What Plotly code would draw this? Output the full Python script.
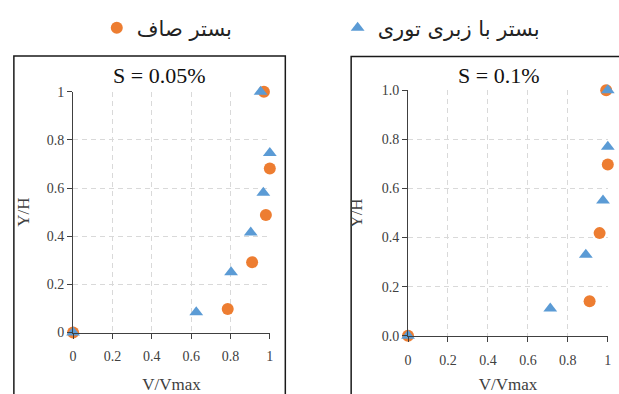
import plotly.graph_objects as go

# Velocity profiles: V/Vmax against Y/H for two slopes
smooth_label = "بستر صاف"
mesh_label = "بستر با زبری توری"

s005_smooth_v = [0.0, 0.786, 0.91, 0.98, 1.0, 0.97]
s005_smooth_y = [0.0, 0.098, 0.292, 0.488, 0.681, 1.0]
s005_mesh_v = [0.0, 0.626, 0.803, 0.903, 0.967, 1.0, 0.953]
s005_mesh_y = [0.0, 0.084, 0.25, 0.415, 0.58, 0.745, 1.0]

s01_smooth_v = [0.0, 0.909, 0.959, 1.0, 0.992]
s01_smooth_y = [0.0, 0.141, 0.418, 0.697, 1.0]
s01_mesh_v = [0.0, 0.712, 0.89, 0.976, 1.0, 1.0]
s01_mesh_y = [0.0, 0.111, 0.33, 0.551, 0.77, 1.0]

x_ticks = [0, 0.2, 0.4, 0.6, 0.8, 1.0]
x_ticktext = ["0", "0.2", "0.4", "0.6", "0.8", "1"]
y_ticks = [0, 0.2, 0.4, 0.6, 0.8, 1.0]
y_ticktext_left = ["0", "0.2", "0.4", "0.6", "0.8", "1"]
y_ticktext_right = ["0.0", "0.2", "0.4", "0.6", "0.8", "1.0"]
panel_titles = ["S = 0.05%", "S = 0.1%"]

ORANGE = "#ED7D31"
BLUE = "#5B9BD5"
SERIF = "Liberation Serif"
W, H = 619, 394

fig = go.Figure()


def add_pair(sv, sy, mv, my, xa, ya, show):
    fig.add_trace(go.Scatter(
        x=sv, y=sy, mode="markers", name=smooth_label, legend="legend",
        showlegend=show, cliponaxis=False, xaxis=xa, yaxis=ya,
        marker=dict(symbol="circle", size=12, color=ORANGE)))
    fig.add_trace(go.Scatter(
        x=mv, y=my, mode="markers", name=mesh_label, legend="legend2",
        showlegend=show, cliponaxis=False, xaxis=xa, yaxis=ya,
        marker=dict(symbol="triangle-up", size=12, color=BLUE)))


add_pair(s005_smooth_v, s005_smooth_y, s005_mesh_v, s005_mesh_y, "x", "y", True)
add_pair(s01_smooth_v, s01_smooth_y, s01_mesh_v, s01_mesh_y, "x2", "y2", False)

grid = dict(showgrid=True, gridcolor="#d9d9d9", griddash="5px,4px", gridwidth=1,
            zeroline=False, showline=True, linecolor="#404040", linewidth=1,
            ticks="outside", ticklen=5, tickcolor="#404040",
            tickfont=dict(family=SERIF, size=14, color="#404040"))
title_font = dict(family=SERIF, size=17, color="#404040")

# pixel geometry of the two plot areas
L = dict(x0=70, x1=269.3, top=88.3, bottom=339.3)
R = dict(x0=409.3, x1=611.7, top=86.7, bottom=342.7)

legend_common = dict(orientation="h", yanchor="middle", xanchor="left",
                     font=dict(family="DejaVu Sans", size=21, color="#222"),
                     bgcolor="rgba(0,0,0,0)")

fig.update_layout(
    width=W, height=H, margin=dict(l=0, r=0, t=0, b=0),
    paper_bgcolor="white", plot_bgcolor="white",
    xaxis=dict(domain=[L["x0"] / W, L["x1"] / W], range=[0, 1], anchor="y",
               tickvals=x_ticks, ticktext=x_ticktext, ticklabelstandoff=6,
               title=dict(text="V/Vmax", standoff=18, font=title_font), **grid),
    yaxis=dict(domain=[1 - L["bottom"] / H, 1 - L["top"] / H], range=[0, 1], anchor="x",
               tickvals=y_ticks, ticktext=y_ticktext_left,
               title=dict(text="Y/H", standoff=12, font=title_font), **grid),
    xaxis2=dict(domain=[R["x0"] / W, R["x1"] / W], range=[0, 1], anchor="y2",
                tickvals=x_ticks, ticktext=x_ticktext, ticklabelstandoff=6,
                title=dict(text="V/Vmax", standoff=12, font=title_font), **grid),
    yaxis2=dict(domain=[1 - R["bottom"] / H, 1 - R["top"] / H], range=[0, 1], anchor="x2",
                tickvals=y_ticks, ticktext=y_ticktext_right,
                title=dict(text="Y/H", standoff=14, font=title_font), **grid),
    legend=dict(x=94 / W, y=1 - 22 / H, **legend_common),
    legend2=dict(x=338 / W, y=1 - 22 / H, **legend_common),
    showlegend=True,
)

# chart-area frames around each panel
fig.add_shape(type="rect", xref="paper", yref="paper",
              x0=10 / W, x1=285 / W, y0=-0.2, y1=1 - 51 / H,
              line=dict(color="#1a1a1a", width=1.5), fillcolor="rgba(0,0,0,0)")
fig.add_shape(type="rect", xref="paper", yref="paper",
              x0=351.7 / W, x1=1.2, y0=-0.2, y1=1 - 51.7 / H,
              line=dict(color="#1a1a1a", width=1.5), fillcolor="rgba(0,0,0,0)")

# panel titles
for text, cx in zip(panel_titles, [157.5, 501]):
    fig.add_annotation(text=text, xref="paper", yref="paper", x=cx / W, y=1 - 71.5 / H,
                       xanchor="center", yanchor="middle", showarrow=False,
                       font=dict(family=SERIF, size=22, color="#111"))

fig.write_html("out.html")
